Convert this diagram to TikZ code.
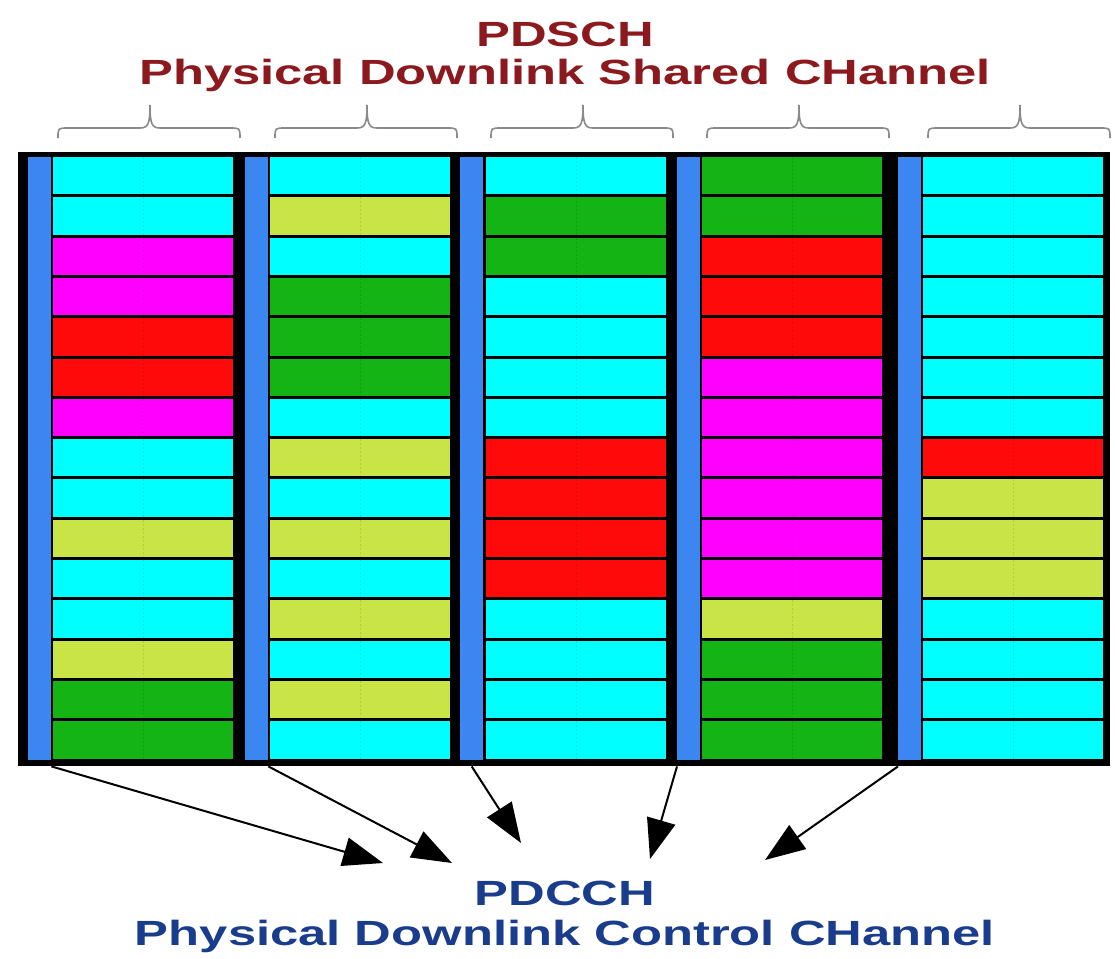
\documentclass[tikz,border=0pt]{standalone}
\usepackage{fontspec}
\setmainfont{Liberation Sans}
\usetikzlibrary{arrows.meta}

\definecolor{cy}{HTML}{00FFFF}
\definecolor{lm}{HTML}{C8E446}
\definecolor{gn}{HTML}{14B414}
\definecolor{rd}{HTML}{FF0A0A}
\definecolor{mg}{HTML}{FF00FF}
\definecolor{barblue}{HTML}{3C86F2}
\definecolor{bracegrey}{HTML}{8A8A8A}
\definecolor{dschred}{HTML}{8C191E}
\definecolor{dcchblue}{HTML}{1A3C8C}

\newcommand\xwide[1]{\scalebox{1.45}[1]{#1}}

\begin{document}
\begin{tikzpicture}[
  x=1pt, y=-1pt,
  every node/.style={inner sep=0pt},
  title/.style={font=\fontsize{35}{40}\selectfont\bfseries, anchor=base},
  bar/.style={fill=barblue, minimum width=23pt, minimum height=603pt, anchor=north west},
  midline/.style={draw=black, opacity=0.1, line width=1pt, dash pattern=on 2pt off 2pt},
  brace/.style={draw=bracegrey, line width=1.6pt},
  link/.style={-{Triangle[length=40pt,width=29pt]}, line width=2pt}]

\useasboundingbox (0,0) rectangle (1115,958);

\node[title, text=dschred] (dsch)     at (565,46) {\xwide{PDSCH}};
\node[title, text=dschred] (dschlong) at (565,84) {\xwide{Physical Downlink Shared CHannel}};

% frame
\fill (18,152) rectangle (1110,766);

\foreach \n/\xb/\xc/\colors in {
    1/28/53/{cy,cy,mg,mg,rd,rd,mg,cy,cy,lm,cy,cy,lm,gn,gn},
    2/245/270/{cy,lm,cy,gn,gn,gn,cy,lm,cy,lm,cy,lm,cy,lm,cy},
    3/460/486/{cy,gn,gn,cy,cy,cy,cy,rd,rd,rd,rd,cy,cy,cy,cy},
    4/677/702/{gn,gn,rd,rd,rd,mg,mg,mg,mg,mg,mg,lm,gn,gn,gn},
    5/898/923/{cy,cy,cy,cy,cy,cy,cy,rd,lm,lm,lm,cy,cy,cy,cy}} {
  \node[bar] (bar\n) at (\xb,157) {};
  \foreach \c [count=\r from 0] in \colors {
    \fill[\c] (\xc,157+40.3*\r) rectangle (\xc+180,157+40.3*\r+37.3);
    \draw[midline] (\xc+90,157+40.3*\r) -- (\xc+90,157+40.3*\r+37.3);
  }
  \draw[brace] (\xc+5,138) .. controls (\xc+5,128) .. (\xc+15,128)
    -- (\xc+87,128) .. controls (\xc+95,128) and (\xc+97,124) .. (\xc+97,105)
    .. controls (\xc+97,124) and (\xc+99,128) .. (\xc+107,128)
    -- (\xc+177,128) .. controls (\xc+187,128) .. (\xc+187,138);
}

\node[title, text=dcchblue] (dcch)     at (565,905) {\xwide{PDCCH}};
\node[title, text=dcchblue] (dcchlong) at (565,945) {\xwide{Physical Downlink Control CHannel}};

\coordinate (t1) at (383,863);
\coordinate (t2) at (452,863);
\coordinate (t3) at (521,843);
\coordinate (t4) at (650,859);
\coordinate (t5) at (765,860);

\draw[link] ([yshift=-6pt]bar1.south east) -- (t1);
\draw[link] ([yshift=-6pt]bar2.south east) -- (t2);
\draw[link] ([yshift=-6pt]bar3.south)      -- (t3);
\draw[link] ([yshift=-6pt]bar4.south west) -- (t4);
\draw[link] ([yshift=-6pt]bar5.south west) -- (t5);
\end{tikzpicture}
\end{document}
